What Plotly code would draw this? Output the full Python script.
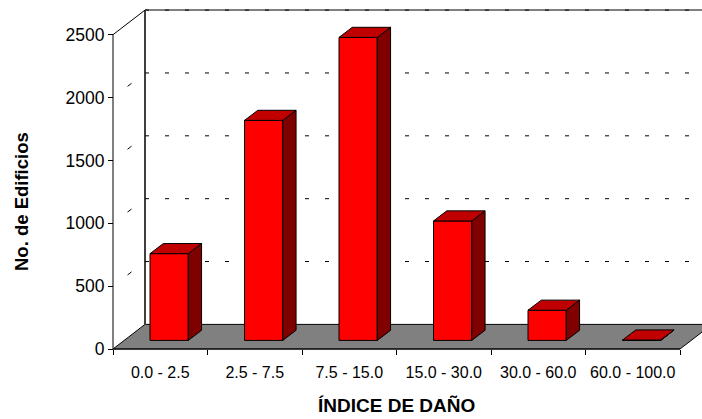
import plotly.graph_objects as go

# ---------------- data ----------------
categories = ["0.0 - 2.5", "2.5 - 7.5", "7.5 - 15.0", "15.0 - 30.0", "30.0 - 60.0", "60.0 - 100.0"]
edificios = [690, 1750, 2410, 950, 240, 3]
y_ticks = [0, 500, 1000, 1500, 2000, 2500]
y_title = "No. de Edificios"
x_title = "ÍNDICE DE DAÑO"

# ---------------- geometry (pixels) ----------------
W, H = 702, 419
PL, PR, PT, PB = 100, 702, 5, 360          # plot area in pixels
X0PX, CATPX = 113, 94.5                    # x pixel of category 0 boundary, px per category
Y0PX = 349                                 # y pixel of value 0
PXPU = 314.3 / 2500                        # px per value unit

xr = [(PL - X0PX) / CATPX, (PR - X0PX) / CATPX]
yr = [(Y0PX - PB) / PXPU, (Y0PX - PT) / PXPU]

DX, DY = 32 / CATPX, 24.6 / PXPU           # floor / wall depth
FX, FY = 11.2 / CATPX, 8.6 / PXPU          # bar front offset into depth
BX, BY = 13.3 / CATPX, 10.1 / PXPU         # bar depth
BL, BW = 0.273, 0.405                      # bar left (within category) and width

n = len(categories)
ymax = y_ticks[-1]

RED, TOPRED, SIDERED = "#FF0000", "#C00000", "#800000"

fig = go.Figure()

# ---------------- walls / floor (shapes below traces) ----------------
shapes = []
floor_path = (f"M {0},{0} L {n},{0} L {n + DX},{DY} L {DX},{DY} Z")
shapes.append(dict(type="path", path=floor_path, xref="x", yref="y",
                   fillcolor="#808080", line=dict(color="black", width=1), layer="below"))
# back wall left edge and top edge
shapes.append(dict(type="line", xref="x", yref="y", x0=DX, y0=DY, x1=DX, y1=ymax + DY,
                   line=dict(color="#404040", width=2), layer="below"))
shapes.append(dict(type="line", xref="x", yref="y", x0=DX, y0=ymax + DY, x1=n + DX, y1=ymax + DY,
                   line=dict(color="#808080", width=2), layer="below"))
# back wall gridlines
for v in y_ticks[1:]:
    shapes.append(dict(type="line", xref="x", yref="y", x0=DX, y0=v + DY, x1=n + DX, y1=v + DY,
                       line=dict(color="black", width=1, dash="4px,16px"), layer="below"))
# side wall gridlines (only one dash visible in the middle)
for v in y_ticks[1:-1]:
    shapes.append(dict(type="line", xref="x", yref="y", x0=DX, y0=v + DY, x1=0, y1=v,
                       line=dict(color="black", width=1, dash="0px,17px,5px,100px"), layer="below"))
# front-top diagonal
shapes.append(dict(type="line", xref="x", yref="y", x0=0, y0=ymax, x1=DX, y1=ymax + DY,
                   line=dict(color="black", width=1), layer="below"))
# front y axis line and x axis line
shapes.append(dict(type="line", xref="x", yref="y", x0=0, y0=0, x1=0, y1=ymax,
                   line=dict(color="black", width=1), layer="below"))
shapes.append(dict(type="line", xref="x", yref="y", x0=0, y0=0, x1=n, y1=0,
                   line=dict(color="black", width=1), layer="below"))

# ---------------- bars: front faces ----------------
xc = [i + BL + FX + BW / 2 for i in range(n)]
fig.add_trace(go.Bar(x=xc, y=edificios, base=FY, width=BW,
                     marker=dict(color=RED, line=dict(color="black", width=1)),
                     hoverinfo="skip"))

# ---------------- bars: side and top faces ----------------
sx, sy, tx, ty = [], [], [], []
for i, v in enumerate(edificios):
    xl = i + BL + FX
    xrr = xl + BW
    top = FY + v
    sx += [xrr, xrr + BX, xrr + BX, xrr, xrr, None]
    sy += [FY, FY + BY, top + BY, top, FY, None]
    tx += [xl, xrr, xrr + BX, xl + BX, xl, None]
    ty += [top, top, top + BY, top + BY, top, None]

fig.add_trace(go.Scatter(x=sx, y=sy, mode="lines", fill="toself", fillcolor=SIDERED,
                         line=dict(color="black", width=1), hoverinfo="skip"))
fig.add_trace(go.Scatter(x=tx, y=ty, mode="lines", fill="toself", fillcolor=TOPRED,
                         line=dict(color="black", width=1), hoverinfo="skip"))

FONT = "Arial, Liberation Sans, sans-serif"


def px_to_paper(px, py):
    return (px - PL) / (PR - PL), (PB - py) / (PB - PT)


ax_x, ax_y = px_to_paper(396, 405)
ay_x, ay_y = px_to_paper(22, 202)

fig.update_layout(
    width=W, height=H, autosize=False,
    margin=dict(l=PL, r=W - PR, t=PT, b=H - PB, pad=0),
    plot_bgcolor="white", paper_bgcolor="white",
    showlegend=False, hovermode=False,
    shapes=shapes,
    font=dict(family=FONT, color="black"),
    xaxis=dict(range=xr, showgrid=False, zeroline=False, showline=False,
               tickmode="array", tickvals=[i + 0.5 for i in range(n)], ticktext=categories,
               ticks="outside", ticklen=9, tickcolor="rgba(0,0,0,0)",
               tickfont=dict(family=FONT, size=16, color="black"),
               anchor="free", position=(PB - Y0PX) / (PB - PT),
               minor=dict(tickmode="array", tickvals=list(range(n + 1)), ticks="outside",
                          ticklen=5, tickcolor="black", tickwidth=1, showgrid=False),
               fixedrange=True),
    yaxis=dict(range=yr, showgrid=False, zeroline=False, showline=False,
               tickmode="array", tickvals=y_ticks, ticks="outside", ticklen=5,
               tickcolor="black", tickwidth=1,
               tickfont=dict(family=FONT, size=17.5, color="black"),
               anchor="free", position=(X0PX - PL) / (PR - PL),
               fixedrange=True),
    annotations=[
        dict(text=f"<b>{x_title}</b>", xref="paper", yref="paper", x=ax_x, y=ax_y,
             xanchor="center", yanchor="middle", showarrow=False,
             font=dict(family=FONT, size=19, color="black")),
        dict(text=f"<b>{y_title}</b>", xref="paper", yref="paper", x=ay_x, y=ay_y,
             xanchor="center", yanchor="middle", showarrow=False, textangle=-90,
             font=dict(family=FONT, size=18.5, color="black")),
    ],
)

fig.write_html("out.html", config={"displayModeBar": False},
               post_script="document.body.style.margin='0';document.body.style.padding='0';")
